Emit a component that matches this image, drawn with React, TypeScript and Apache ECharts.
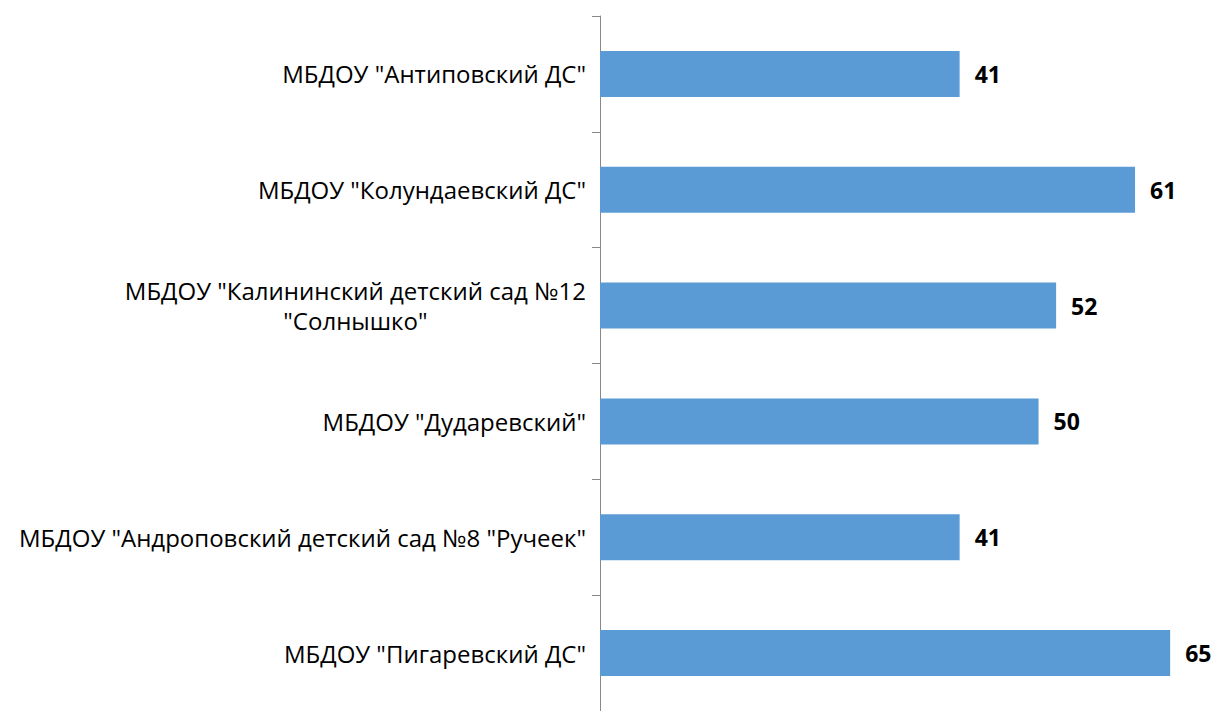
import React, { useEffect, useRef } from "react";
import * as echarts from "echarts";

const categories = [
  'МБДОУ "Антиповский ДС"',
  'МБДОУ "Колундаевский ДС"',
  'МБДОУ "Калининский детский сад №12\n"Солнышко"',
  'МБДОУ "Дударевский"',
  'МБДОУ "Андроповский детский сад №8 "Ручеек"',
  'МБДОУ "Пигаревский ДС"',
];
const values = [41, 61, 52, 50, 41, 65];

export default function App() {
  const ref = useRef<HTMLDivElement>(null);
  useEffect(() => {
    document.body.style.margin = "0";
    const chart = echarts.init(ref.current!, null, { renderer: "svg" });
    chart.setOption({
      animation: false,
      grid: { left: 600, right: 4, top: 16, bottom: -3, containLabel: false },
      xAxis: {
        type: "value",
        min: 0,
        max: 70,
        show: false,
      },
      yAxis: {
        type: "category",
        inverse: true,
        data: categories,
        axisLine: { show: true, lineStyle: { color: "#888888", width: 1 } },
        axisTick: { show: true, length: 8, lineStyle: { color: "#888888" } },
        axisLabel: {
          margin: 14,
          fontFamily: "Open Sans",
          fontSize: 24,
          color: "#000000",
          lineHeight: 30,
          formatter: (v: string) =>
            v
              .split("\n")
              .map((l) => "{c|" + l + "}")
              .join("\n"),
          rich: {
            c: {
              align: "center",
              fontFamily: "Open Sans",
              fontSize: 24,
              color: "#000000",
              lineHeight: 30,
            },
          },
        },
      },
      series: [
        {
          type: "bar",
          data: values,
          barWidth: 46,
          itemStyle: { color: "#5B9BD5" },
          label: {
            show: true,
            position: "right",
            distance: 15,
            fontFamily: "Open Sans",
            fontWeight: "bold",
            fontSize: 23,
            color: "#000000",
          },
        },
      ],
    });
    return () => chart.dispose();
  }, []);
  return <div ref={ref} style={{ width: 1218, height: 711 }} />;
}
